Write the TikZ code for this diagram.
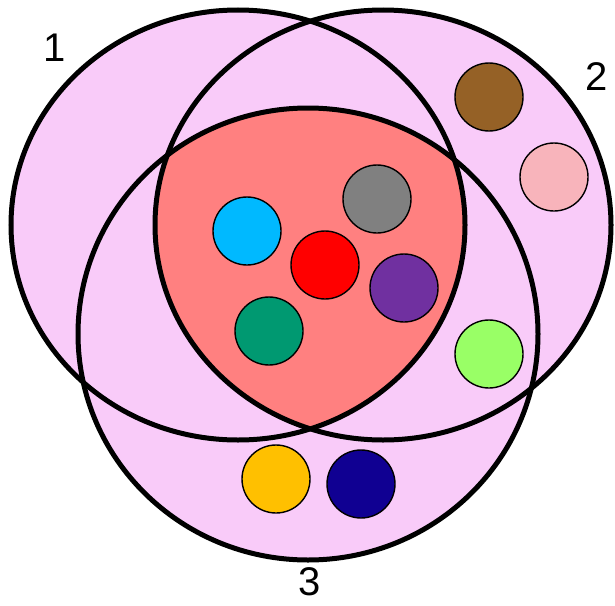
\documentclass[tikz,border=0pt]{standalone}
\usepackage{fontspec}
\setmainfont{Liberation Sans}
\usepackage{tikz}
\definecolor{vennPink}{HTML}{F9CBF9}
\definecolor{vennCore}{HTML}{FF8080}
\definecolor{dotCyan}{HTML}{00B9FF}
\definecolor{dotGray}{HTML}{808080}
\definecolor{dotRed}{HTML}{FF0000}
\definecolor{dotPurple}{HTML}{7030A0}
\definecolor{dotTeal}{HTML}{009971}
\definecolor{dotBrown}{HTML}{956126}
\definecolor{dotRose}{HTML}{F8B4BB}
\definecolor{dotLime}{HTML}{99FF66}
\definecolor{dotAmber}{HTML}{FFC000}
\definecolor{dotNavy}{HTML}{100092}
\newcommand{\vennA}{(238,225) ellipse [x radius=227, y radius=215]}
\newcommand{\vennB}{(383,225) ellipse [x radius=228, y radius=215]}
\newcommand{\vennC}{(308,334) ellipse [x radius=230, y radius=226]}

\begin{document}
\begin{tikzpicture}[
  x=1pt,
  y=-1pt,
  rim/.style={draw=black, line width=5pt},
  dot/.style={
    circle,
    draw=black,
    line width=1.4pt,
    minimum size=68pt,
    inner sep=0pt
  },
  setlabel/.style={font=\fontsize{40}{40}\selectfont, inner sep=0pt}
]
\useasboundingbox (0,0) rectangle (615,605);

\fill[vennPink] \vennA \vennB \vennC;
\begin{scope}
  \clip \vennA;
  \clip \vennB;
  \fill[vennCore] \vennC;
\end{scope}
\draw[rim] \vennA;
\draw[rim] \vennB;
\draw[rim] \vennC;

\node[dot, fill=dotCyan]   (cyan)   at (247, 231) {};
\node[dot, fill=dotGray]   (gray)   at (377, 199) {};
\node[dot, fill=dotRed]    (red)    at (325, 265) {};
\node[dot, fill=dotPurple] (purple) at (404, 288) {};
\node[dot, fill=dotTeal]   (teal)   at (269, 331) {};
\node[dot, fill=dotBrown]  (brown)  at (489,  97) {};
\node[dot, fill=dotRose]   (rose)   at (554, 177) {};
\node[dot, fill=dotLime]   (lime)   at (489, 354) {};
\node[dot, fill=dotAmber]  (amber)  at (276, 479) {};
\node[dot, fill=dotNavy]   (navy)   at (361, 484) {};

\node[setlabel] (one)   at (55,  48) {1};
\node[setlabel] (two)   at (597, 77) {2};
\node[setlabel] (three) at (310, 582) {3};
\end{tikzpicture}
\end{document}
